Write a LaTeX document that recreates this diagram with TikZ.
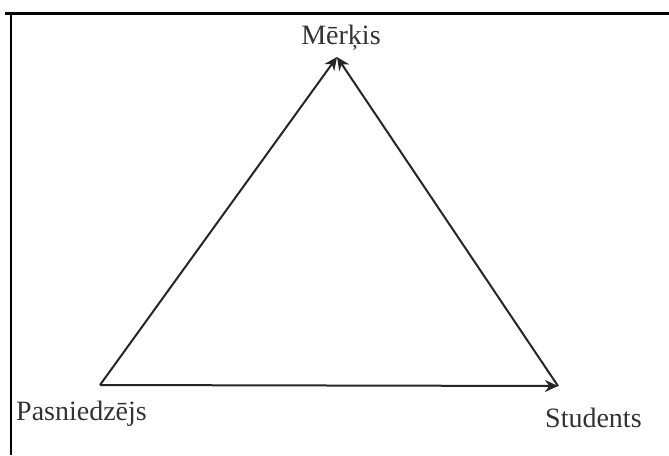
\documentclass[tikz,border=0pt]{standalone}
\usepackage{fontspec}
\setmainfont{Liberation Serif}
\usetikzlibrary{arrows.meta}
\begin{document}
\begin{tikzpicture}[x=1pt,y=-1pt,
  lbl/.style={font=\fontsize{28}{30}\selectfont, text=black!80, inner sep=0pt},
  edge/.style={line width=2pt, draw=black!85, -{Stealth[length=13pt,width=12pt]}},
  vtx/.style={inner sep=0pt, minimum size=0pt}]
\useasboundingbox (0,0) rectangle (669,455);
\fill[white] (0,0) rectangle (669,455);
\draw[line width=3pt] (5,13) -- (669,13);
\draw[line width=2.5pt] (11,13) -- (11,455);
\coordinate (A) at (337,57);
\coordinate (B) at (100,385);
\coordinate (C) at (558,386);
\node[lbl] (m) at (341,38) {Mērķis};
\node[lbl, anchor=west] (p) at (16,414) {Pasniedzējs};
\node[lbl, anchor=west] (s) at (545,418) {Students};
\draw[edge] (B) -- (A);
\draw[edge] (C) -- (A);
\draw[edge] (B) -- (C);
\end{tikzpicture}
\end{document}
